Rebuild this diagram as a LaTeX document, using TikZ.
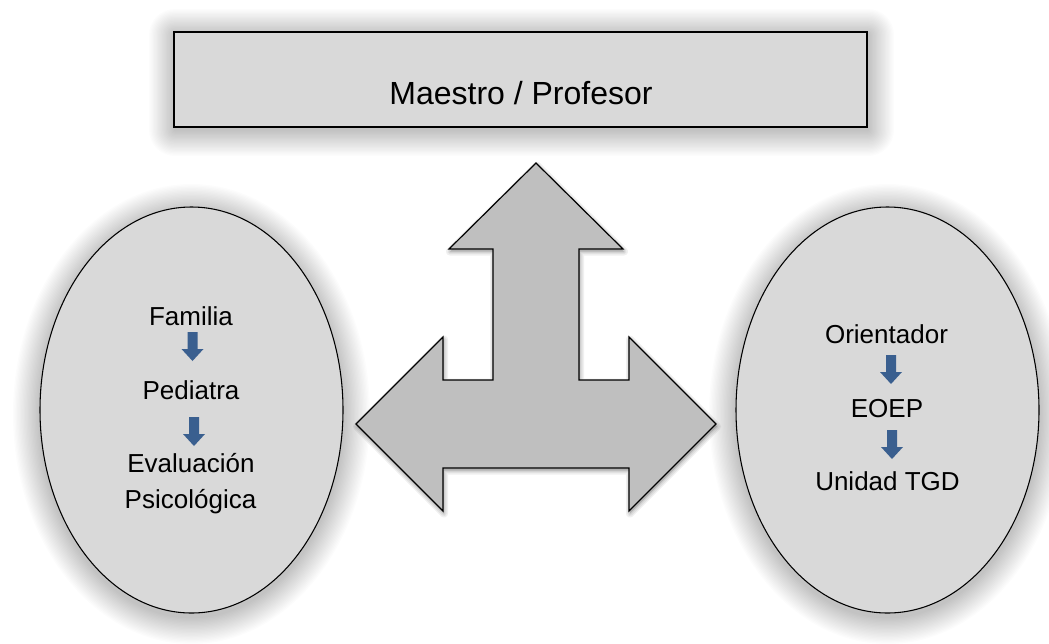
\documentclass[tikz,border=0pt]{standalone}
\usepackage{fontspec}
\setmainfont{Liberation Sans}
\definecolor{boxfill}{HTML}{D9D9D9}
\definecolor{arrowfill}{HTML}{BFBFBF}
\definecolor{stepblue}{HTML}{3A5F8F}
\tikzset{
  topbox/.style={draw=black,line width=1pt,fill=boxfill,minimum width=519.75pt,minimum height=71.25pt,inner sep=0pt},
  ovalbox/.style={ellipse,draw=black,line width=0.8pt,fill=boxfill,minimum width=227.25pt,minimum height=304.5pt,inner sep=0pt},
  lbl/.style={inner sep=0pt,anchor=base,font=\fontsize{19.5}{23}\selectfont},
  toplbl/.style={inner sep=0pt,anchor=base,font=\fontsize{24}{29}\selectfont},
  bigarrow/.style={draw=black,line width=0.9pt,fill=arrowfill,line join=miter},
  darrow/.pic={\fill[stepblue] (-5,0) -- (5,0) -- (5,17) -- (11,17) -- (0,29) -- (-11,17) -- (-5,17) -- cycle;}
}
\usetikzlibrary{shapes.geometric}
\begin{document}
\begin{tikzpicture}[x=0.75pt,y=-0.75pt]
\useasboundingbox (0,0) rectangle (1049,643);
\fill[white] (0,0) rectangle (1049,643);
\coordinate (tc) at (520.5,79.5);
\coordinate (lc) at (191.5,410);
\coordinate (rc) at (887.5,410);
% glow of top box
\foreach \k in {0,...,19}{
  \pgfmathsetmacro\r{26*(1-\k/20)}
  \pgfmathsetmacro\rc{\r*0.75+0.01}
  \fill[black,opacity=0.013,rounded corners=\rc pt] ({174-\r+1},{32-\r+3}) rectangle ({867+\r+1},{127+\r+3});
}
% glow of ellipses
\foreach \k in {0,...,19}{
  \pgfmathsetmacro\r{27*(1-\k/20)}
  \pgfmathsetmacro\rx{(151.5+\r)*0.75}
  \pgfmathsetmacro\ry{(203+\r)*0.75}
  \fill[black,opacity=0.013] ([yshift=-3pt]lc) ellipse [x radius=\rx pt, y radius=\ry pt];
  \fill[black,opacity=0.013] ([yshift=-3pt]rc) ellipse [x radius=\rx pt, y radius=\ry pt];
}
\node[topbox] (top) at (tc) {};
\node[toplbl] (toptext) at (521,104) {Maestro / Profesor};
\node[ovalbox] (left) at (lc) {};
\node[ovalbox] (right) at (rc) {};
% shadow of the three-way arrow
\def\arrowpath{(536,163) -- (623,249) -- (579,249) -- (579,380) -- (629,380) -- (629,337) -- (716,424) -- (629,511) -- (629,468) -- (443,468) -- (443,511) -- (356,424) -- (443,337) -- (443,380) -- (493,380) -- (493,249) -- (449,249) -- cycle}
\begin{scope}[shift={(1,2.5)}]
  \foreach \w in {6,4,2}{
    \draw[black,opacity=0.06,line width=\w pt,line join=round] \arrowpath;
  }
  \fill[black,opacity=0.15] \arrowpath;
\end{scope}
\draw[bigarrow] \arrowpath;
% left texts
\node[lbl] (fam) at (191,325) {Familia};
\node[lbl] (ped) at (191,399) {Pediatra};
\node[lbl] (eva) at (191,472) {Evaluación};
\node[lbl] (psi) at (190.5,508) {Psicológica};
\pic at (192.5,332) {darrow};
\pic at (194,417) {darrow};
% right texts
\node[lbl] (ori) at (886.5,343) {Orientador};
\node[lbl] (eoep) at (887,417) {EOEP};
\node[lbl] (uni) at (887.5,490) {Unidad TGD};
\pic at (891,355) {darrow};
\pic at (892,430) {darrow};
\end{tikzpicture}
\end{document}
